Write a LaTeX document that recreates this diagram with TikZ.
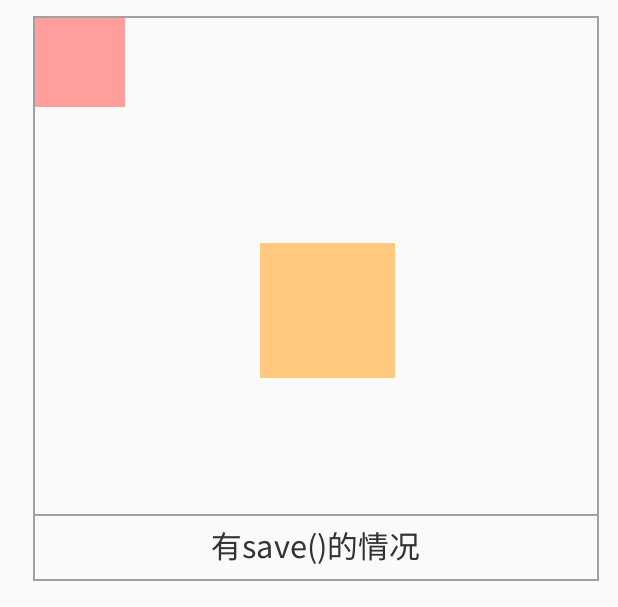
\documentclass[tikz,border=0pt]{standalone}
\usepackage{fontspec}
\newfontfamily\cjk{Noto Sans CJK SC}
\definecolor{pagebg}{HTML}{FAFAFA}
\definecolor{framegray}{HTML}{A0A0A0}
\definecolor{redbox}{HTML}{FF9E9B}
\definecolor{orangebox}{HTML}{FFCA7E}
\definecolor{textgray}{HTML}{333333}
\begin{document}
\begin{tikzpicture}[x=0.02cm, y=-0.02cm]
            \useasboundingbox[fill=pagebg] (0,0) rectangle (618,606);

            \coordinate (TL) at (34,17);
            \coordinate (BR) at (598,580);
            \coordinate (DL) at (34,515);
            \coordinate (DR) at (598,515);

            \fill[redbox] (35,18) rectangle (125,107);
            \fill[orangebox] (260,243) rectangle (395,378);

            \draw[framegray, line width=1.2pt] (TL) rectangle (BR);
            \draw[framegray, line width=1.2pt] (DL) -- (DR);

            \node[text=textgray, font=\cjk\fontsize{17.5pt}{20pt}\selectfont] (caption) at (316,549) {有save()的情况};
        \end{tikzpicture}
\end{document}
